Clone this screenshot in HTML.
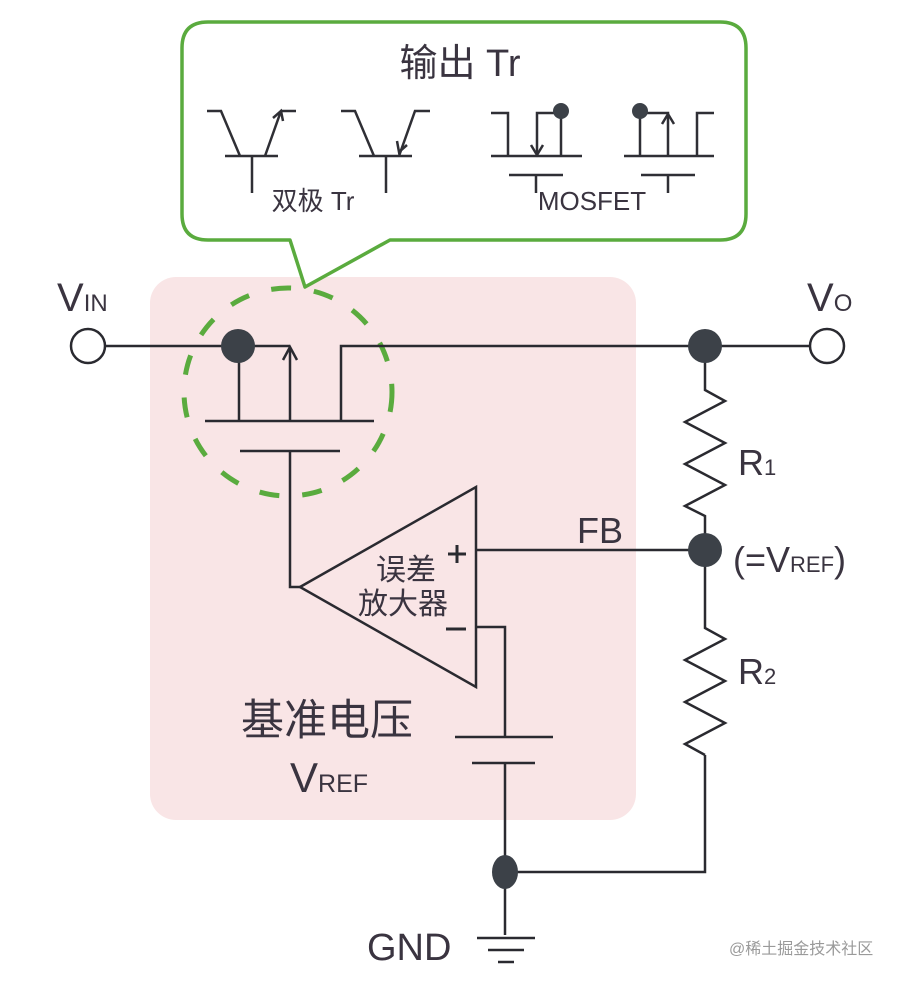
<!DOCTYPE html>
<html><head><meta charset="utf-8"><style>
html,body{margin:0;padding:0;background:#fff;}
svg{display:block;}
text{font-family:"Liberation Sans","Noto Sans CJK SC",sans-serif;fill:#3a3440;}
</style></head><body>
<svg width="914" height="982" viewBox="0 0 914 982" xmlns="http://www.w3.org/2000/svg">
<rect x="150" y="277" width="486" height="543" rx="26" fill="#f9e5e6"/>
<path d="M208 22 H720 Q746 22 746 48 V214 Q746 240 720 240 H390 L305 287 L290 240 H208 Q182 240 182 214 V48 Q182 22 208 22 Z" fill="#fff" stroke="#5aab3e" stroke-width="3.5" stroke-linejoin="round"/>
<text x="460" y="76" font-size="38" text-anchor="middle">输出 Tr</text>
<g stroke="#2f2f35" stroke-width="2.5" fill="none">
 <path d="M207 111 H221 L240 156"/><path d="M225 156 H278"/><path d="M252 156 V193"/>
 <path d="M265 156 L281 111 H296"/><path d="M273 118 L281 111 L283 121"/>
 <path d="M341 111 H355 L374 156"/><path d="M359 156 H412"/><path d="M386 156 V193"/>
 <path d="M399 156 L415 111 H430"/><path d="M397 141 L399 152 L407 145"/>
 <path d="M491 113 H508 V156"/><path d="M537 156 V113 H562"/><path d="M531 145 L537 155 L543 145"/><path d="M561 113 V156"/>
 <path d="M491 156 H582"/><path d="M509 175 H563"/><path d="M536 175 V193"/>
 <path d="M714 113 H697 V156"/><path d="M668 156 V113 H640"/><path d="M662 124 L668 114 L674 124"/><path d="M640 113 V156"/>
 <path d="M624 156 H714"/><path d="M641 175 H695"/><path d="M668 175 V193"/>
</g>
<circle cx="561" cy="111" r="8" fill="#3c4148"/><circle cx="640" cy="111" r="8" fill="#3c4148"/>
<text x="313" y="210" font-size="26" text-anchor="middle">双极 Tr</text>
<text x="592" y="210" font-size="26" text-anchor="middle">MOSFET</text>
<circle cx="288" cy="392" r="104" fill="none" stroke="#5aab3e" stroke-width="5" stroke-dasharray="20 23"/>
<g stroke="#2a2a30" stroke-width="2.5" fill="none">
 <path d="M105 346 H290"/><path d="M341 421 V346 H810"/>
 <path d="M239 346 V421"/><path d="M290 421 V347"/><path d="M283 360 L290 347 L297 360"/>
 <path d="M205 421 H374"/><path d="M240 451 H340"/><path d="M290 451 V587 H300"/>
 <path d="M300 587 L476 487 V687 Z"/>
 <path d="M476 550 H705"/><path d="M476 627 H505 V737"/>
 <path d="M455 737 H553"/><path d="M472 763 H535"/><path d="M505 763 V935"/>
 <path d="M505 872 H705 V755"/>
 <path d="M705 346 V390 L725 401 L685 422 L725 443 L685 464 L725 485 L685 506 L705 516 V628 L725 639 L685 660 L725 681 L685 702 L725 723 L685 744 L705 755"/>
 <path d="M477 938 H535"/><path d="M488 950 H524"/><path d="M498 962 H514"/>
</g>
<g stroke="#2a2a30" stroke-width="3" fill="none">
 <path d="M448 554 H466 M457 545 V563"/><path d="M446 629 H466"/>
</g>
<circle cx="88" cy="346" r="17" fill="#fff" stroke="#2a2a30" stroke-width="2.5"/>
<circle cx="827" cy="346" r="17" fill="#fff" stroke="#2a2a30" stroke-width="2.5"/>
<circle cx="238" cy="346" r="17" fill="#3c4148"/>
<circle cx="705" cy="346" r="17" fill="#3c4148"/>
<circle cx="705" cy="550" r="17" fill="#3c4148"/>
<ellipse cx="505" cy="872" rx="13" ry="17" fill="#3c4148"/>
<text x="57" y="311" font-size="40">V<tspan font-size="24">IN</tspan></text>
<text x="807" y="311" font-size="40">V<tspan font-size="24">O</tspan></text>
<text x="738" y="475" font-size="36">R<tspan font-size="22">1</tspan></text>
<text x="738" y="684" font-size="36">R<tspan font-size="22">2</tspan></text>
<text x="577" y="543" font-size="36">FB</text>
<text x="733" y="572" font-size="36">(=V<tspan font-size="22">REF</tspan>)</text>
<text x="406" y="580" font-size="30" text-anchor="middle">误差</text>
<text x="403" y="614" font-size="30" text-anchor="middle">放大器</text>
<text x="327" y="735" font-size="43" text-anchor="middle">基准电压</text>
<text x="290" y="792" font-size="42">V<tspan font-size="25">REF</tspan></text>
<text x="367" y="960" font-size="38">GND</text>
<text x="729" y="954" font-size="16" style="fill:#9a9a9a">@稀土掘金技术社区</text>
</svg>
</body></html>
